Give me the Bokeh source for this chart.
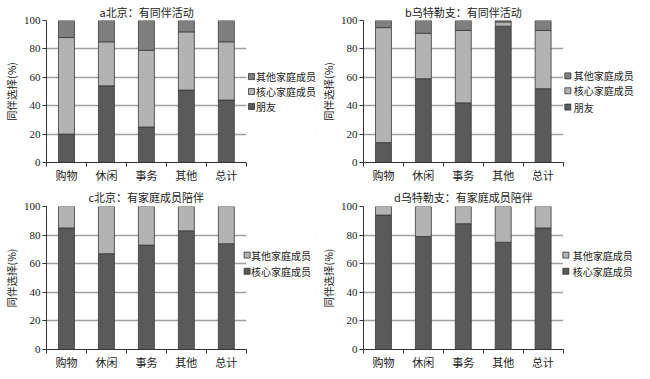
from bokeh.plotting import figure
from bokeh.models import Range1d, FixedTicker, Label, BoxAnnotation
from bokeh.layouts import column, row
from bokeh.embed import file_html
from bokeh.resources import INLINE
import numpy as np

categories = ["购物", "休闲", "事务", "其他", "总计"]

# a 北京：有同伴活动 (%)
a_friend = [20, 54, 25, 51, 44]
a_core = [68, 31, 54, 41, 41]
a_other = [12, 15, 21, 8, 15]

# b 乌特勒支：有同伴活动 (%)
b_friend = [14, 59, 42, 96, 52]
b_core = [81, 32, 51, 3, 41]
b_other = [5, 9, 7, 1, 7]

# c 北京：有家庭成员陪伴 (%)
c_core = [85, 67, 73, 83, 74]
c_other = [15, 33, 27, 17, 26]

# d 乌特勒支：有家庭成员陪伴 (%)
d_core = [94, 79, 88, 75, 85]
d_other = [6, 21, 12, 25, 15]

titles = ["a北京：有同伴活动", "b乌特勒支：有同伴活动",
          "c北京：有家庭成员陪伴", "d乌特勒支：有家庭成员陪伴"]
ylabel = "同伴选择(%)"

DARK = "#5a5a5a"
MID = "#7f7f7f"
LIGHT = "#b3b3b3"
EDGE = "#3a3a3a"
CJK = "Noto Sans CJK SC"
NUM = "Liberation Serif"
XLAB = "Liberation Serif, Noto Sans CJK SC"


def make_panel(title, series, names, colors, w, h, bl, bl_est, br,
               title_standoff, cat_px, leg_x, leg_tx, leg_y):
    """leg_*: legend placement (layout only) in axis units; leg_y top-down."""
    n = len(categories)
    xs = np.arange(n) + 0.5
    data = {"x": xs}
    keys = []
    for i, s in enumerate(series):
        k = "s%d" % i
        data[k] = s
        keys.append(k)
    frame_w = w - bl_est - br
    x_end = n * frame_w / cat_px
    p = figure(width=w, height=h, output_backend="svg", toolbar_location=None,
               x_range=Range1d(0, x_end), y_range=Range1d(0, 100),
               min_border_left=bl, min_border_right=br,
               min_border_top=4, min_border_bottom=4)
    p.outline_line_color = None
    p.xgrid.grid_line_color = None
    p.ygrid.grid_line_color = "#a0a0a0"
    p.ygrid.grid_line_width = 1.3
    p.ygrid.ticker = FixedTicker(ticks=[20, 40, 60, 80, 100])
    # blank out grid lines beyond the category area (legend zone)
    p.add_layout(BoxAnnotation(left=n, fill_color="white", fill_alpha=1.0,
                               line_color=None, level="underlay"))

    p.vbar_stack(keys, x="x", width=0.4, color=colors, line_color=EDGE,
                 line_width=0.8, source=data)

    p.title.text = title
    p.title.align = "left"
    p.title.text_font = CJK
    p.title.text_font_size = "11px"
    p.title.text_font_style = "normal"
    p.title.text_color = "#222222"
    p.title.standoff = title_standoff
    p.title.offset = max(0, (cat_px - 11 * len(title)) / 2)

    p.xaxis.bounds = (0, n)
    p.xaxis.ticker = FixedTicker(ticks=list(xs), minor_ticks=list(range(n + 1)))
    p.xaxis.major_label_overrides = {float(x): c for x, c in zip(xs, categories)}
    p.xaxis.major_tick_line_color = None
    p.xaxis.major_tick_out = 0
    p.xaxis.major_tick_in = 0
    p.xaxis.minor_tick_line_color = "#333333"
    p.xaxis.minor_tick_out = 4
    p.xaxis.minor_tick_in = 0
    p.xaxis.axis_line_color = "#333333"
    p.xaxis.major_label_text_font = XLAB
    p.xaxis.major_label_text_font_size = "11px"
    p.xaxis.major_label_text_color = "#222222"
    p.xaxis.major_label_standoff = 3
    p.xaxis.axis_label_standoff = 0

    p.yaxis.ticker = FixedTicker(ticks=[0, 20, 40, 60, 80, 100])
    p.yaxis.minor_tick_line_color = None
    p.yaxis.major_tick_out = 4
    p.yaxis.major_tick_in = 0
    p.yaxis.major_tick_line_color = "#333333"
    p.yaxis.axis_line_color = "#333333"
    p.yaxis.major_label_text_font = NUM
    p.yaxis.major_label_text_font_size = "11px"
    p.yaxis.major_label_text_color = "#222222"
    p.yaxis.major_label_standoff = 2
    p.yaxis.axis_label = ylabel
    p.yaxis.axis_label_text_font = CJK
    p.yaxis.axis_label_text_font_size = "10.5px"
    p.yaxis.axis_label_text_font_style = "normal"
    p.yaxis.axis_label_text_color = "#222222"
    p.yaxis.axis_label_standoff = 2

    # legend: top entry is the top of the stack
    order = list(range(len(names)))[::-1]
    for row_i, si in enumerate(order):
        yy = leg_y[row_i]
        p.scatter([leg_x], [yy], marker="square", size=6,
                  fill_color=colors[si], line_color="#333333", line_width=0.8)
        p.add_layout(Label(x=leg_tx, y=yy, text=names[si], text_font=CJK,
                           text_font_size="10px", text_color="#222222",
                           text_baseline="middle", text_align="left"))
    return p


pa = make_panel(titles[0], [a_friend, a_core, a_other],
                ["朋友", "核心家庭成员", "其他家庭成员"], [DARK, LIGHT, MID],
                317, 184, 36, 39, 2, 2, 205, 5.13, 5.24, [60.5, 50, 39.5])
pb = make_panel(titles[1], [b_friend, b_core, b_other],
                ["朋友", "核心家庭成员", "其他家庭成员"], [DARK, LIGHT, MID],
                317, 184, 40, 40, 0, 2, 204, 5.12, 5.27, [61, 50.5, 39])
pc = make_panel(titles[2], [c_core, c_other],
                ["核心家庭成员", "其他家庭成员"], [DARK, LIGHT],
                317, 187, 36, 39, 2, 4, 205, 5.02, 5.12, [66, 54.7])
pd_ = make_panel(titles[3], [d_core, d_other],
                 ["核心家庭成员", "其他家庭成员"], [DARK, LIGHT],
                 317, 187, 40, 40, 0, 4, 204, 5.07, 5.24, [66, 54.7])

layout = column(row(pa, pb), row(pc, pd_))
open("out.html", "w").write(file_html(layout, INLINE))
